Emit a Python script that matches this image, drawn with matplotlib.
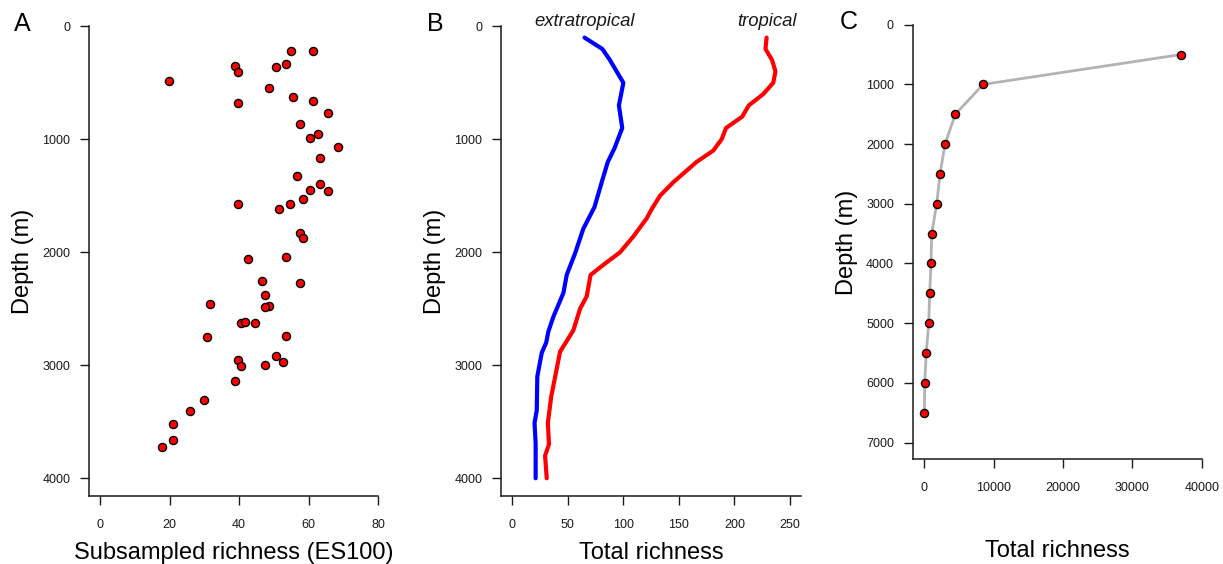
import matplotlib
matplotlib.use("Agg")
import matplotlib.pyplot as plt

plt.rcParams['font.family'] = ['Liberation Sans', 'DejaVu Sans']

# Panel A: subsampled richness (ES100) vs depth
a_richness = [55, 61.4, 38.8, 39.6, 50.5, 53.6, 19.9, 48.7, 55.4, 39.6, 61.4, 65.5,
              57.5, 62.6, 60.5, 68.5, 63.4, 56.6, 63.4, 60.5, 65.5, 58.5, 39.6, 54.6,
              51.6, 57.5, 58.5, 42.6, 53.6, 46.6, 57.5, 47.5, 31.7, 48.7, 47.5, 40.5,
              41.7, 44.6, 30.8, 53.6, 39.6, 50.6, 52.6, 40.7, 47.5, 38.7, 29.8, 25.8,
              20.9, 20.9, 17.8]
a_depth = [216, 216, 348, 407, 363, 337, 481, 543, 626, 679, 664, 767,
           865, 950, 989, 1071, 1166, 1328, 1399, 1452, 1461, 1528, 1570, 1570,
           1620, 1826, 1873, 2060, 2039, 2251, 2272, 2381, 2461, 2475, 2487, 2626,
           2614, 2629, 2750, 2741, 2950, 2918, 2974, 3004, 2997, 3142, 3310, 3404,
           3520, 3664, 3726]

# Panel B: total richness, extratropical and tropical
extra_depth = [100, 200, 300, 500, 700, 900, 1080, 1200, 1380, 1600, 1790, 2010, 2200,
               2360, 2570, 2700, 2800, 2890, 3100, 3400, 3510, 3690, 4000]
extra_rich = [65, 81, 88, 100, 96, 99, 92, 86, 80.5, 74, 64, 56.5, 49,
              46, 37, 32.5, 30.5, 26.5, 22.5, 22, 20, 21, 21]
trop_depth = [100, 200, 300, 400, 500, 600, 700, 800, 900, 1000, 1100, 1200, 1380, 1500,
              1610, 1700, 1860, 2000, 2100, 2200, 2390, 2500, 2690, 2880, 3280, 3510,
              3700, 3800, 4000]
trop_rich = [229, 228, 234, 237, 235, 226, 213, 207, 192.5, 188.5, 181, 166, 145, 133,
             126, 121, 109, 97, 83.5, 70.5, 67, 61, 55, 43, 35, 32,
             33, 29.5, 31]
series_labels = ["extratropical", "tropical"]

# Panel C: total richness by depth bin
c_depth = [500, 1000, 1500, 2000, 2500, 3000, 3500, 4000, 4500, 5000, 5500, 6000, 6500]
c_rich = [37000, 8500, 4470, 2990, 2270, 1790, 1070, 970, 780, 635, 290, 60, 20]

W, H = 1223, 564
fig = plt.figure(figsize=(W / 100, H / 100), dpi=100)


def add_ax(l, r, t, b):
    return fig.add_axes([l / W, 1 - b / H, (r - l) / W, (b - t) / H])


axA = add_ax(89, 378, 26.3, 496)
axB = add_ax(501, 801, 26.3, 496)
axC = add_ax(912.7, 1201.7, 24.7, 459.3)

ink = '#1a1a1a'
for ax in (axA, axB, axC):
    for s in ('top', 'right'):
        ax.spines[s].set_visible(False)
    for s in ('left', 'bottom'):
        ax.spines[s].set_linewidth(1.1)
        ax.spines[s].set_color(ink)
    ax.tick_params(axis='both', direction='out', length=6.5, width=1.0,
                   color=ink, labelsize=9, labelcolor=ink)
    ax.tick_params(axis='y', pad=7)
    ax.tick_params(axis='x', pad=10)
    ax.set_ylabel("Depth (m)", fontsize=17, labelpad=6)

# A
axA.scatter(a_richness, a_depth, s=34, c='#ff0000', edgecolors='black',
            linewidths=1.0, zorder=3, clip_on=False)
axA.set_xlim(-3.2, 80)
axA.set_ylim(4157, 0)
axA.set_xticks([0, 20, 40, 60, 80])
axA.set_yticks([0, 1000, 2000, 3000, 4000])
axA.set_xlabel("Subsampled richness (ES100)", fontsize=17, labelpad=8)

# B
axB.plot(extra_rich, extra_depth, color='#0000ff', lw=3, solid_capstyle='round',
         solid_joinstyle='round')
axB.plot(trop_rich, trop_depth, color='#ff0000', lw=3, solid_capstyle='round',
         solid_joinstyle='round')
axB.set_xlim(-10.2, 260)
axB.set_ylim(4157, 0)
axB.set_xticks([0, 50, 100, 150, 200, 250])
axB.set_yticks([0, 1000, 2000, 3000, 4000])
axB.set_xlabel("Total richness", fontsize=17, labelpad=8)
axB.text(extra_rich[0], 0, series_labels[0], style='italic', fontsize=13.3,
         ha='center', va='baseline', clip_on=False, color=ink)
axB.text(trop_rich[0], 0, series_labels[1], style='italic', fontsize=13.3,
         ha='center', va='baseline', clip_on=False, color=ink)

# C
axC.plot(c_rich, c_depth, color='#b3b3b3', lw=2, zorder=2)
axC.scatter(c_rich, c_depth, s=34, c='#ff0000', edgecolors='black',
            linewidths=1.0, zorder=3, clip_on=False)
axC.set_xlim(-1670, 40000)
axC.set_ylim(7280, 0)
axC.set_xticks([0, 10000, 20000, 30000, 40000])
axC.set_yticks([0, 1000, 2000, 3000, 4000, 5000, 6000, 7000])
axC.set_xlabel("Total richness", fontsize=17, labelpad=33)

for lab, x, y in (("A", 22, 24), ("B", 435, 24), ("C", 849, 22)):
    fig.text(x / W, 1 - y / H, lab, fontsize=18, ha='center', va='center', color='black')

fig.savefig("out.png", dpi=100)
